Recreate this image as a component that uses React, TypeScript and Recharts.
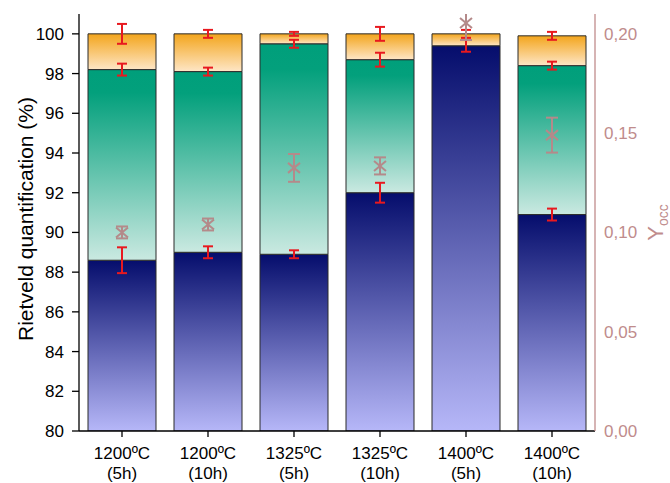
import React from 'react';
import { ComposedChart, Bar, Scatter, XAxis, YAxis, ErrorBar } from 'recharts';

const temperatures = ['1200ºC', '1200ºC', '1325ºC', '1325ºC', '1400ºC', '1400ºC'];
const durations = ['5h', '10h', '5h', '10h', '5h', '10h'];

const blueTop = [88.6, 89.0, 88.9, 92.0, 99.4, 90.9];
const greenTop = [98.2, 98.1, 99.5, 98.7, 99.4, 98.4];
const orangeTop = [100, 100, 100, 100, 100, 99.9];

const blueErr = [0.65, 0.3, 0.2, 0.5, 0.3, 0.3];
const greenErr = [0.3, 0.2, 0.2, 0.35, 0, 0.2];
const orangeErr = [0.5, 0.2, 0.1, 0.35, 0.2, 0.2];

const yOcc = [0.1, 0.104, 0.1325, 0.1335, 0.2055, 0.149];
const yOccErr = [0.003, 0.003, 0.007, 0.0043, 0.0086, 0.0088];

const leftTicks = [80, 82, 84, 86, 88, 90, 92, 94, 96, 98, 100];
const leftMinorTicks = [81, 83, 85, 87, 89, 91, 93, 95, 97, 99];
const rightTicks = [0, 0.05, 0.1, 0.15, 0.2];
const rightMinorTicks = [0.025, 0.075, 0.125, 0.175];
const boundaryTicks = [1, 2, 3, 4, 5];

const BASE = 80;

const data = temperatures.map((t, i) => ({
  name: `${t}\n(${durations[i]})`,
  blue: [BASE, blueTop[i]],
  green: [blueTop[i], greenTop[i]],
  orange: [greenTop[i], orangeTop[i]],
  blueTop: blueTop[i],
  greenTop: greenTop[i],
  orangeTop: orangeTop[i],
  blueErr: blueErr[i],
  greenErr: greenErr[i],
  orangeErr: orangeErr[i],
  yOcc: yOcc[i],
  yOccErr: yOccErr[i],
}));

const FONT = '"Liberation Sans", Arial, Helvetica, sans-serif';
const AXIS_RED = '#c08c8c';
const ERR_RED = '#e8191f';
const GRAY = '#b48a8a';

const XTick = (props: any) => {
  const { x, y, payload } = props;
  const [a, b] = String(payload.value).split('\n');
  return (
    <text x={x} y={y} textAnchor="middle" fontSize={17} fill="#000" fontFamily={FONT}>
      <tspan x={x} dy="0.71em">{a}</tspan>
      <tspan x={x} dy={20}>{b}</tspan>
    </text>
  );
};

const XMark = (props: any) => {
  const { cx, cy } = props;
  if (cx == null || cy == null) return <g />;
  return (
    <g stroke={GRAY} strokeWidth={2}>
      <line x1={cx - 6} y1={cy - 5} x2={cx + 6} y2={cy + 5} />
      <line x1={cx - 6} y1={cy + 5} x2={cx + 6} y2={cy - 5} />
    </g>
  );
};

const Invisible = () => <g />;

const LeftTitle = (props: any) => {
  const vb = props.viewBox || {};
  const cx = vb.x + 6.5;
  const cy = vb.y + vb.height / 2 - 3.5;
  return (
    <text
      x={cx}
      y={cy}
      transform={`rotate(-90 ${cx} ${cy})`}
      textAnchor="middle"
      dy="0.355em"
      fontSize={21}
      fill="#000"
      fontFamily={FONT}
    >
      Rietveld quantification (%)
    </text>
  );
};

const RightTitle = (props: any) => {
  const vb = props.viewBox || {};
  const bx = vb.x + 67.5;
  const cy = vb.y + vb.height / 2;
  return (
    <text
      x={bx}
      y={cy}
      transform={`rotate(-90 ${bx} ${cy})`}
      textAnchor="middle"
      fill={AXIS_RED}
      fontFamily={FONT}
    >
      <tspan fontSize={22}>Y</tspan>
      <tspan fontSize={14} dy={5}>occ</tspan>
    </text>
  );
};

const axisBlack = { stroke: '#000', strokeWidth: 1.3 };
const axisRed = { stroke: AXIS_RED, strokeWidth: 1.3 };

export default function App() {
  return (
    <div style={{ position: 'absolute', left: 0, top: 0, width: 670, height: 483, fontFamily: FONT, background: '#fff' }}>
      <ComposedChart
        width={670}
        height={483}
        data={data}
        margin={{ top: 14, right: 15, bottom: 2, left: 19 }}
        barSize={68}
        barGap={-68}
      >
        <defs>
          <linearGradient id="gBlue" x1="0" y1="0" x2="0" y2="1">
            <stop offset="0%" stopColor="#050d6c" />
            <stop offset="100%" stopColor="#b6b7f8" />
          </linearGradient>
          <linearGradient id="gGreen" x1="0" y1="0" x2="0" y2="1">
            <stop offset="0%" stopColor="#009f7b" />
            <stop offset="12%" stopColor="#03a07c" />
            <stop offset="100%" stopColor="#cae9e1" />
          </linearGradient>
          <linearGradient id="gOrange" x1="0" y1="0" x2="0" y2="1">
            <stop offset="0%" stopColor="#f3a51c" />
            <stop offset="100%" stopColor="#fee6c6" />
          </linearGradient>
          <clipPath id="plotClip">
            <rect x={0} y={14} width={670} height={469} />
          </clipPath>
        </defs>

        <XAxis
          xAxisId="bMinor"
          type="number"
          domain={[0, 6]}
          ticks={boundaryTicks}
          allowDataOverflow
          tick={false}
          tickSize={4}
          axisLine={false}
          tickLine={axisBlack}
          height={0}
        />
        <XAxis
          dataKey="name"
          type="category"
          allowDuplicatedCategory={false}
          allowDataOverflow
          height={50}
          tick={<XTick />}
          tickSize={6}
          tickMargin={10}
          axisLine={axisBlack}
          tickLine={axisBlack}
          interval={0}
        />
        <XAxis
          xAxisId="top"
          dataKey="name"
          type="category"
          allowDuplicatedCategory={false}
          orientation="top"
          mirror
          height={0}
          tick={false}
          tickSize={8}
          axisLine={axisBlack}
          tickLine={axisBlack}
          interval={0}
        />
        <XAxis
          xAxisId="tMinor"
          type="number"
          orientation="top"
          mirror
          height={0}
          domain={[0, 6]}
          ticks={boundaryTicks}
          allowDataOverflow
          tick={false}
          tickSize={4}
          axisLine={false}
          tickLine={axisBlack}
        />

        <YAxis
          yAxisId="lMinor"
          type="number"
          domain={[80, 101]}
          ticks={leftMinorTicks}
          allowDataOverflow
          tick={false}
          tickSize={4}
          axisLine={false}
          tickLine={axisBlack}
          width={0}
        />
        <YAxis
          yAxisId="left"
          type="number"
          domain={[80, 101]}
          ticks={leftTicks}
          allowDataOverflow
          width={60}
          tickSize={7}
          tickMargin={8}
          axisLine={axisBlack}
          tickLine={axisBlack}
          tick={{ fontSize: 17, fill: '#000', fontFamily: FONT }}
          label={<LeftTitle />}
        />
        <YAxis
          yAxisId="right"
          orientation="right"
          type="number"
          domain={[0, 0.21]}
          ticks={rightTicks}
          allowDataOverflow
          width={60}
          tickSize={0}
          tickMargin={9}
          tickLine={false}
          axisLine={axisRed}
          tick={{ fontSize: 17, fill: AXIS_RED, fontFamily: FONT }}
          tickFormatter={(v: number) => v.toFixed(2).replace('.', ',')}
          label={<RightTitle />}
        />
        <YAxis
          yAxisId="rMajor"
          orientation="right"
          mirror
          width={0}
          type="number"
          domain={[0, 0.21]}
          ticks={rightTicks}
          allowDataOverflow
          tick={false}
          tickSize={8}
          axisLine={false}
          tickLine={axisRed}
        />
        <YAxis
          yAxisId="rMinor"
          orientation="right"
          mirror
          width={0}
          type="number"
          domain={[0, 0.21]}
          ticks={rightMinorTicks}
          allowDataOverflow
          tick={false}
          tickSize={5}
          axisLine={false}
          tickLine={axisRed}
        />

        <Bar yAxisId="left" dataKey="blue" fill="url(#gBlue)" stroke="#2b2b2b" strokeWidth={1} isAnimationActive={false} />
        <Bar yAxisId="left" dataKey="green" fill="url(#gGreen)" stroke="#2b2b2b" strokeWidth={1} isAnimationActive={false} />
        <Bar yAxisId="left" dataKey="orange" fill="url(#gOrange)" stroke="#2b2b2b" strokeWidth={1} isAnimationActive={false} />

        <Scatter yAxisId="left" dataKey="blueTop" shape={<Invisible />} isAnimationActive={false}>
          <ErrorBar dataKey="blueErr" direction="y" width={5} stroke={ERR_RED} strokeWidth={2} />
        </Scatter>
        <Scatter yAxisId="left" dataKey="greenTop" shape={<Invisible />} isAnimationActive={false}>
          <ErrorBar dataKey="greenErr" direction="y" width={5} stroke={ERR_RED} strokeWidth={2} />
        </Scatter>
        <Scatter yAxisId="left" dataKey="orangeTop" shape={<Invisible />} isAnimationActive={false}>
          <ErrorBar dataKey="orangeErr" direction="y" width={5} stroke={ERR_RED} strokeWidth={2} />
        </Scatter>

        <Scatter yAxisId="right" dataKey="yOcc" shape={<XMark />} isAnimationActive={false}>
          <ErrorBar dataKey="yOccErr" direction="y" width={6} stroke={GRAY} strokeWidth={2} clipPath="url(#plotClip)" />
        </Scatter>
      </ComposedChart>
    </div>
  );
}
